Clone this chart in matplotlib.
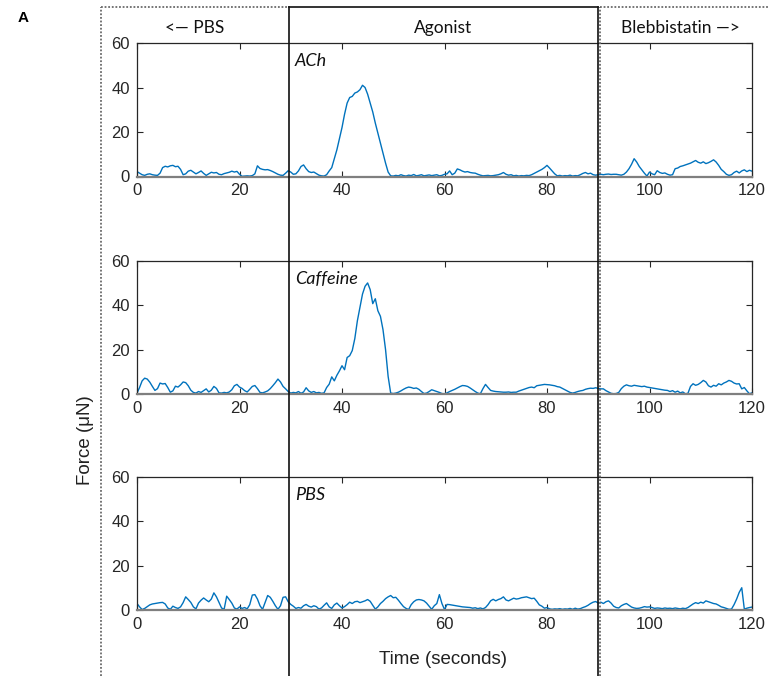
import numpy as np
import matplotlib
matplotlib.use("Agg")
import matplotlib.pyplot as plt
from matplotlib.lines import Line2D

plt.rcParams['font.family'] = ['Liberation Sans', 'DejaVu Sans']

# time axis, 0.5 s sampling
time_s = np.arange(0, 120.5, 0.5)

# force traces (uN)
force_ach = [
    2.2, 1.5, 0.8, 0.5, 1.0, 1.2, 0.8, 0.6, 0.5, 1.5, 4.0, 4.6, 4.3, 4.8, 5.0, 4.4, 4.6, 3.2, 0.8, 1.2,
    2.4, 2.8, 2.0, 1.2, 1.8, 2.5, 1.4, 0.5, 1.2, 1.9, 1.6, 1.8, 1.0, 0.8, 1.3, 1.6, 1.9, 2.4, 2.0, 2.3,
    1.0, 0.1, 0.2, 0.3, 0.2, 0.4, 1.2, 4.8, 3.6, 3.2, 3.0, 3.1, 2.7, 2.2, 1.6, 1.0, 0.6, 0.5, 1.5, 2.6,
    2.0, 1.0, 1.2, 2.5, 4.5, 5.2, 3.5, 2.2, 1.8, 2.0, 1.3, 0.6, 0.3, 0.2, 0.8, 2.5, 4.0, 8.0, 12.0, 17.0,
    22.0, 28.0, 33.0, 35.5, 36.0, 37.5, 38.0, 39.0, 41.0, 40.0, 37.0, 33.0, 29.0, 24.0, 19.5, 15.0, 10.5, 6.0, 2.0, 0.3,
    0.2, 0.5, 0.3, 0.8, 0.4, 0.2, 0.6, 0.4, 0.9, 0.3, 0.5, 0.8, 0.3, 0.5, 0.7, 0.4, 0.6, 0.8, 0.3, 0.5,
    1.0, 1.2, 2.5, 0.8, 1.5, 3.4, 3.0, 2.4, 2.0, 2.2, 1.8, 1.6, 1.5, 1.0, 0.6, 0.3, 0.4, 0.5, 0.3, 0.4,
    0.6, 0.8, 1.2, 1.8, 1.0, 0.6, 0.8, 0.3, 0.5, 0.2, 0.4, 0.3, 0.5, 0.4, 0.8, 1.4, 2.0, 2.6, 3.2, 4.0,
    5.0, 3.8, 2.5, 1.2, 0.3, 0.5, 0.2, 0.4, 0.3, 0.6, 0.2, 0.4, 0.3, 0.8, 1.4, 1.8, 1.2, 1.5, 0.8, 0.6,
    0.8, 1.0, 0.8, 1.0, 1.1, 0.9, 1.0, 1.0, 0.8, 0.6, 1.0, 2.0, 3.5, 5.5, 8.0, 6.5, 4.5, 3.0, 1.5, 0.2,
    2.0, 1.2, 0.8, 2.6, 1.8, 1.4, 1.6, 1.0, 0.6, 0.8, 3.5, 3.8, 4.5, 4.8, 5.2, 5.6, 6.0, 6.6, 7.2, 6.4,
    6.0, 6.6, 5.8, 6.2, 6.8, 7.5, 6.5, 5.0, 3.2, 2.2, 1.0, 0.5, 0.8, 1.8, 2.4, 1.6, 2.5, 3.0, 2.2, 2.8,
    2.4,
]

force_caffeine = [
    0.5, 3.0, 6.0, 7.2, 6.8, 5.4, 3.5, 1.7, 2.5, 5.0, 4.6, 4.8, 3.0, 0.9, 1.5, 3.6, 3.2, 4.2, 5.5, 5.2,
    3.8, 1.8, 0.8, 0.5, 1.2, 0.8, 1.6, 2.4, 1.0, 1.8, 3.5, 2.6, 0.6, 0.5, 0.8, 0.6, 1.0, 2.0, 3.8, 4.4,
    3.2, 2.6, 1.6, 1.0, 2.2, 3.5, 3.9, 2.5, 0.8, 0.6, 1.0, 1.5, 2.5, 3.8, 5.2, 6.8, 5.5, 3.5, 2.4, 1.2,
    0.5, 0.8, 0.6, 1.2, 0.4, 1.0, 2.9, 1.5, 0.8, 1.2, 0.6, 0.8, 0.4, 0.6, 3.0, 4.5, 7.8, 6.0, 8.5, 10.5,
    12.8, 11.0, 16.5, 17.3, 19.6, 25.0, 33.0, 39.0, 45.0, 48.5, 50.0, 47.0, 40.7, 42.9, 37.5, 35.0, 29.0, 20.0, 8.0, 0.5,
    0.3, 0.5, 0.9, 1.5, 2.2, 2.8, 3.2, 3.0, 2.6, 2.8, 2.2, 1.2, 0.3, 0.5, 1.2, 2.0, 1.6, 1.2, 0.8, 0.3,
    0.2, 0.6, 1.2, 1.7, 2.2, 2.8, 3.4, 3.9, 3.8, 3.5, 2.8, 2.0, 1.2, 0.5, 0.2, 2.5, 4.4, 3.0, 1.7, 1.4,
    1.2, 1.1, 1.0, 0.9, 0.9, 1.0, 0.8, 0.9, 0.9, 1.4, 1.8, 2.2, 2.6, 3.0, 3.2, 2.9, 3.8, 4.0, 4.2, 4.4,
    4.3, 4.2, 4.0, 3.8, 3.4, 3.2, 2.6, 2.0, 1.4, 0.8, 0.5, 0.8, 1.2, 1.5, 1.7, 2.2, 2.5, 2.7, 2.6, 2.9,
    2.6, 2.4, 2.4, 1.6, 1.0, 0.4, 0.2, 0.3, 0.8, 2.5, 3.6, 4.2, 3.8, 3.6, 4.0, 3.8, 3.6, 3.4, 3.6, 3.2,
    3.0, 2.8, 2.6, 2.4, 2.2, 2.0, 1.8, 1.7, 1.2, 1.6, 0.9, 1.4, 0.6, 1.0, 0.2, 0.4, 3.5, 4.7, 4.0, 4.4,
    5.2, 6.2, 5.5, 3.8, 3.2, 4.0, 3.6, 4.7, 4.2, 5.0, 5.5, 6.2, 5.8, 5.0, 4.6, 4.7, 2.4, 3.0, 1.5, 0.2,
    0.6,
]

force_pbs = [
    3.0, 1.5, 0.3, 0.8, 1.6, 2.4, 2.8, 3.0, 3.2, 3.4, 3.5, 2.8, 1.0, 0.4, 1.8, 1.2, 0.8, 1.5, 3.4, 6.0,
    4.8, 3.5, 1.5, 0.6, 3.2, 4.5, 5.5, 4.6, 3.8, 5.0, 7.8, 6.0, 3.5, 1.0, 0.4, 6.3, 4.8, 3.2, 1.0, 0.5,
    1.5, 0.8, 1.2, 0.6, 2.5, 6.8, 7.0, 5.0, 2.0, 0.4, 3.5, 6.6, 5.8, 4.0, 2.0, 0.4, 2.0, 5.8, 6.0, 3.8,
    2.6, 1.8, 0.8, 1.2, 0.9, 2.0, 2.6, 1.8, 1.4, 2.0, 1.6, 0.5, 1.0, 2.2, 3.3, 1.5, 0.8, 2.4, 3.2, 2.0,
    1.0, 1.6, 2.5, 3.6, 3.0, 3.8, 4.0, 3.4, 3.8, 4.2, 4.8, 4.0, 2.2, 0.5, 1.5, 3.0, 4.0, 5.2, 6.0, 6.6,
    5.6, 5.8, 4.5, 3.0, 1.6, 0.8, 0.3, 2.5, 3.8, 4.6, 4.8, 4.6, 4.2, 3.2, 1.8, 0.4, 2.0, 3.0, 7.0, 3.0,
    0.3, 2.6, 2.5, 2.3, 2.1, 1.9, 1.7, 1.5, 1.4, 1.3, 1.2, 0.9, 1.1, 0.7, 1.0, 0.6, 1.2, 2.5, 4.2, 4.9,
    4.2, 4.8, 5.2, 6.0, 4.6, 4.2, 4.8, 5.4, 5.0, 5.2, 5.6, 5.8, 6.0, 5.6, 5.2, 5.4, 4.0, 2.4, 1.8, 0.9,
    1.2, 0.6, 0.4, 0.6, 0.5, 0.7, 0.4, 0.6, 0.5, 0.8, 0.4, 0.9, 0.5, 0.7, 1.2, 1.6, 2.2, 3.0, 3.6, 3.9,
    3.2, 3.6, 3.0, 3.8, 4.2, 3.2, 1.8, 1.2, 1.0, 2.0, 2.6, 3.0, 2.2, 1.4, 1.0, 0.8, 0.9, 1.2, 1.6, 1.4,
    1.5, 1.2, 0.8, 1.0, 0.9, 0.7, 1.0, 0.8, 0.9, 0.7, 1.0, 0.8, 0.6, 0.9, 0.7, 1.2, 2.0, 2.8, 3.4, 3.0,
    3.6, 3.2, 4.2, 3.8, 3.4, 3.0, 2.8, 2.2, 1.5, 1.2, 0.8, 0.4, 0.5, 2.5, 5.0, 8.0, 10.1, 0.5, 0.9, 1.2,
    1.4,
]

traces = [force_ach, force_caffeine, force_pbs]
trace_names = ["ACh", "Caffeine", "PBS"]
x_ticks = [0, 20, 40, 60, 80, 100, 120]
y_ticks = [0, 20, 40, 60]
headers = ["<\u2014 PBS", "Agonist", "Blebbistatin \u2014>"]

W, H = 769, 676
fig = plt.figure(figsize=(W / 100, H / 100), dpi=100)

# axes rectangles in pixel terms (left, top, right, bottom)
ax_left, ax_right = 137, 752
ax_tops = [43, 260.7, 476.7]
ax_h = 133.5

axes = []
for i, (vals, name) in enumerate(zip(traces, trace_names)):
    top = ax_tops[i]
    ax = fig.add_axes([ax_left / W, 1 - (top + ax_h) / H, (ax_right - ax_left) / W, ax_h / H])
    ax.plot(time_s, vals, color="#0072BD", lw=1.0)
    ax.set_xlim(0, 120)
    ax.set_ylim(0, 60)
    ax.set_xticks(x_ticks)
    ax.set_yticks(y_ticks)
    ax.tick_params(direction="in", top=True, right=True, length=4, width=0.8,
                   labelsize=12, colors="#262626", pad=5)
    for sp in ax.spines.values():
        sp.set_color("#262626")
        sp.set_linewidth(0.9)
    ax.spines["bottom"].set_color("#7f7f7f")
    ax.spines["bottom"].set_linewidth(1.6)
    ax.text(30.8, 55.5, name, fontsize=13, style="italic", family="Lato",
            ha="left", va="top", color="#111111")
    axes.append(ax)

fig.text(443 / W, 1 - 660 / H, "Time (seconds)", fontsize=13.5, ha="center", va="center", color="#222222")
fig.text(85 / W, 1 - 440 / H, "Force (\u03bcN)", fontsize=13.5, ha="center", va="center",
         rotation=90, color="#222222")
fig.text(18 / W, 1 - 18 / H, "A", fontsize=11, fontweight="bold", ha="left", va="center")

# vertical separators, placed at t = 30 and t = 90 of the axes
fig.canvas.draw()
to_fig = axes[0].transData + fig.transFigure.inverted()
x30 = to_fig.transform((29.7, 0))[0]
x90 = to_fig.transform((89.9, 0))[0]
x_left = 101 / W
x_bleb = x90 + 2.5 / W
y_top = 1 - 7 / H

dot = dict(color="#6a6a6a", lw=1.3, linestyle=(0, (1, 1)), transform=fig.transFigure)
solid = dict(color="#111111", lw=1.2, transform=fig.transFigure)
fig.add_artist(Line2D([x_left, x_left], [0, y_top], **dot))
fig.add_artist(Line2D([x_left, x30], [y_top, y_top], **dot))
fig.add_artist(Line2D([x_bleb, x_bleb], [0, y_top], **dot))
fig.add_artist(Line2D([x_bleb, 1.0], [y_top, y_top], **dot))
fig.add_artist(Line2D([x30, x30], [0, y_top], **solid))
fig.add_artist(Line2D([x90, x90], [0, y_top], **solid))
fig.add_artist(Line2D([x30, x90], [y_top, y_top], **solid))

head_y = 1 - 28 / H
head_x = [(x_left + x30) / 2, (x30 + x90) / 2, (x_bleb + 1.0) / 2 - 4 / W]
for hx, label in zip(head_x, headers):
    fig.text(hx, head_y, label, fontsize=12.5, family="Lato", ha="center", va="center", color="#111111")

fig.savefig("out.png", dpi=100)
